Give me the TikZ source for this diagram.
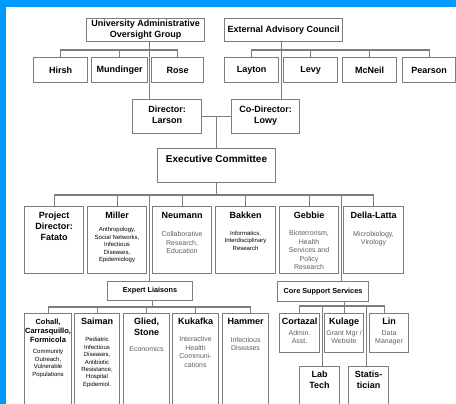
\documentclass[tikz,border=0pt]{standalone}
\usepackage{fontspec}
\setmainfont{Liberation Sans}
\usetikzlibrary{calc}

\definecolor{bgblue}{RGB}{0,153,255}
\definecolor{linegray}{RGB}{125,125,125}
\definecolor{descgray}{RGB}{95,95,95}

\newcommand{\nmfont}{\fontsize{9}{11}\selectfont\bfseries}
\newcommand{\dsfont}{\fontsize{6}{7.4}\selectfont\mdseries}
\newcommand{\dgfont}{\fontsize{7}{8.4}\selectfont\mdseries\color{descgray}}
% width, height, strut, name, gap, description
\newcommand{\orgcell}[6]{\parbox[t][#2][t]{#1}{\centering\nmfont\rule{0pt}{#3}#4\par\vspace{#5}#6\par}}

\begin{document}
\begin{tikzpicture}[x=1pt, y=-1pt,
  orgbox/.style={draw=linegray, line width=1.1pt, fill=white, inner sep=0pt, anchor=north west},
  namebox/.style={orgbox, align=center, font=\nmfont},
  orgline/.style={draw=linegray, line width=1.1pt}]
  \useasboundingbox (0,0) rectangle (456,404);
  \fill[bgblue] (0,0) rectangle (456,404);
  \fill[white] (6,7) rectangle (456,404);

  % Oversight and advisory groups
  \node[namebox, minimum width=118pt, minimum height=23pt] (uaog) at (86,18) {University Administrative\\Oversight Group};
  \node[namebox, minimum width=118pt, minimum height=23pt] (eac) at (224,18) {External Advisory Council};
  \node[namebox, minimum width=54pt, minimum height=25pt] (hirsh) at (33,57) {Hirsh};
  \node[namebox, minimum width=56pt, minimum height=25pt] (mund) at (91,57) {Mundinger};
  \node[namebox, minimum width=52pt, minimum height=25pt] (rose) at (151,57) {Rose};
  \node[namebox, minimum width=54pt, minimum height=25pt] (layton) at (224,57) {Layton};
  \node[namebox, minimum width=54pt, minimum height=25pt] (levy) at (283,57) {Levy};
  \node[namebox, minimum width=54pt, minimum height=25pt] (mcneil) at (342,57) {McNeil};
  \node[namebox, minimum width=53pt, minimum height=25pt] (pearson) at (402,57) {Pearson};

  % Directors and committee
  \node[orgbox] (director) at (132,99) {\orgcell{69pt}{34pt}{12.5pt}{Director:\\Larson}{0pt}{}};
  \node[orgbox] (codir) at (231,99) {\orgcell{68pt}{34pt}{12.5pt}{Co-Director:\\Lowy}{0pt}{}};
  \node[orgbox] (exec) at (157,148) {\orgcell{118pt}{34pt}{13.5pt}{\fontsize{10}{12}\selectfont Executive Committee}{0pt}{}};

  % Members
  \node[orgbox] (fatato) at (24,206) {\orgcell{59pt}{67pt}{12pt}{Project\\Director:\\Fatato}{0pt}{}};
  \node[orgbox] (miller) at (87,206) {\orgcell{59pt}{67pt}{12pt}{Miller}{6pt}{\dsfont Anthropology,\\Social Networks,\\Infectious\\Diseases,\\Epidemiology}};
  \node[orgbox] (neumann) at (152,206) {\orgcell{59pt}{67pt}{12pt}{Neumann}{10pt}{\dgfont Collaborative\\Research,\\Education}};
  \node[orgbox] (bakken) at (215,206) {\orgcell{60pt}{67pt}{12pt}{Bakken}{9.5pt}{\dsfont Informatics,\\Interdisciplinary\\Research}};
  \node[orgbox] (gebbie) at (279,206) {\orgcell{59pt}{67pt}{12pt}{Gebbie}{9pt}{\dgfont Bioterrorism,\\Health\\Services and\\Policy\\Research}};
  \node[orgbox] (dellalatta) at (343,206) {\orgcell{60pt}{67pt}{12pt}{Della-Latta}{9.5pt}{\dgfont Microbiology,\\Virology}};

  \node[namebox, font=\fontsize{7.3}{9}\selectfont\bfseries, minimum width=85pt, minimum height=19pt] (experts) at (107,281) {Expert Liaisons};
  \node[namebox, font=\fontsize{7.3}{9}\selectfont\bfseries, minimum width=91pt, minimum height=20pt] (core) at (277,281) {Core Support Services};

  % Expert liaisons
  \node[orgbox] (cohall) at (24,313) {\orgcell{47pt}{94pt}{10.5pt}{\fontsize{7.5}{9}\selectfont Cohall,\\Carrasquillo,\\Formicola}{4.5pt}{\dsfont Community\\Outreach,\\Vulnerable\\Populations}};
  \node[orgbox] (saiman) at (74,313) {\orgcell{45pt}{94pt}{11pt}{Saiman}{10pt}{\dsfont Pediatric\\Infectious\\Diseases,\\Antibiotic\\Resistance,\\Hospital\\Epidemiol.}};
  \node[orgbox] (glied) at (123,313) {\orgcell{46pt}{94pt}{11pt}{Glied,\\Stone}{8pt}{\dgfont Economics}};
  \node[orgbox] (kukafka) at (172,313) {\orgcell{46pt}{94pt}{11pt}{Kukafka}{9pt}{\dgfont Interactive\\Health\\Communi-\\cations}};
  \node[orgbox] (hammer) at (222,313) {\orgcell{46pt}{94pt}{11pt}{Hammer}{9.5pt}{\dgfont Infectious\\Diseases}};

  % Core support staff
  \node[orgbox] (cortazal) at (279,313) {\orgcell{40pt}{39pt}{11pt}{Cortazal}{2.5pt}{\dgfont Admin.\\Asst.}};
  \node[orgbox] (kulage) at (324,313) {\orgcell{39pt}{39pt}{11pt}{Kulage}{2.5pt}{\dgfont Grant Mgr /\\Website}};
  \node[orgbox] (lin) at (369,313) {\orgcell{39pt}{39pt}{11pt}{Lin}{2.5pt}{\dgfont Data\\Manager}};
  \node[orgbox] (labtech) at (299,366) {\orgcell{40pt}{41pt}{10.5pt}{Lab\\Tech}{0pt}{}};
  \node[orgbox] (statis) at (348,366) {\orgcell{40pt}{41pt}{10.5pt}{Statis-\\tician}{0pt}{}};

  % Connectors
  \coordinate (gapA) at ($(mund.east)!.5!(rose.west)$);
  \coordinate (gapB) at ($(layton.east)!.5!(levy.west)$);
  \draw[orgline] (uaog.south -| gapA) -- (director.north -| gapA);
  \draw[orgline] (hirsh.north) -- ([yshift=7pt]hirsh.north) -| (rose.north);
  \draw[orgline] (mund.north) -- ([yshift=7pt]mund.north);
  \draw[orgline] (eac.south -| gapB) -- (codir.north -| gapB);
  \draw[orgline] (layton.north) -- ([yshift=7pt]layton.north) -| (pearson.north);
  \foreach \n in {levy,mcneil}
    \draw[orgline] (\n.north) -- ([yshift=7pt]\n.north);
  \draw[orgline] (director) -- (codir);
  \draw[orgline] (exec.north) -- (exec.north |- director.east);

  \coordinate (busC) at ([yshift=11pt]fatato.north);
  \draw[orgline] (fatato.north) -- (busC) -| (dellalatta.north);
  \draw[orgline] (exec.south) -- (exec.south |- busC);
  \foreach \n in {miller,neumann,bakken,gebbie}
    \draw[orgline] (\n.north) -- (\n.north |- busC);
  \coordinate (gapC) at ($(miller.east)!.5!(neumann.west)$);
  \coordinate (gapD) at ($(gebbie.east)!.5!(dellalatta.west)$);
  \draw[orgline] (gapC |- busC) -- (experts.north -| gapC);
  \draw[orgline] (gapD |- busC) -- (core.north -| gapD);

  \coordinate (busE) at ([yshift=6pt]cohall.north);
  \draw[orgline] (cohall.north) -- (busE) -| ([xshift=5pt]hammer.north);
  \foreach \n in {saiman,glied,kukafka}
    \draw[orgline] (\n.north) -- (\n.north |- busE);
  \draw[orgline] ([xshift=2.5pt]experts.south) -- ([xshift=2.5pt]experts.south |- busE);

  \coordinate (busF) at ([yshift=7pt]cortazal.north);
  \draw[orgline] (cortazal.north) -- (busF) -| ([xshift=-5pt]lin.north);
  \draw[orgline] (kulage.north) -- (kulage.north |- core.south);
  \coordinate (gapG) at ($(cortazal.east)!.5!(kulage.west)$);
  \coordinate (gapH) at ($(kulage.east)!.5!(lin.west)$);
  \draw[orgline] (gapG |- busF) -- (labtech.north -| gapG);
  \draw[orgline] (gapH |- busF) -- (statis.north -| gapH);
\end{tikzpicture}
\end{document}
